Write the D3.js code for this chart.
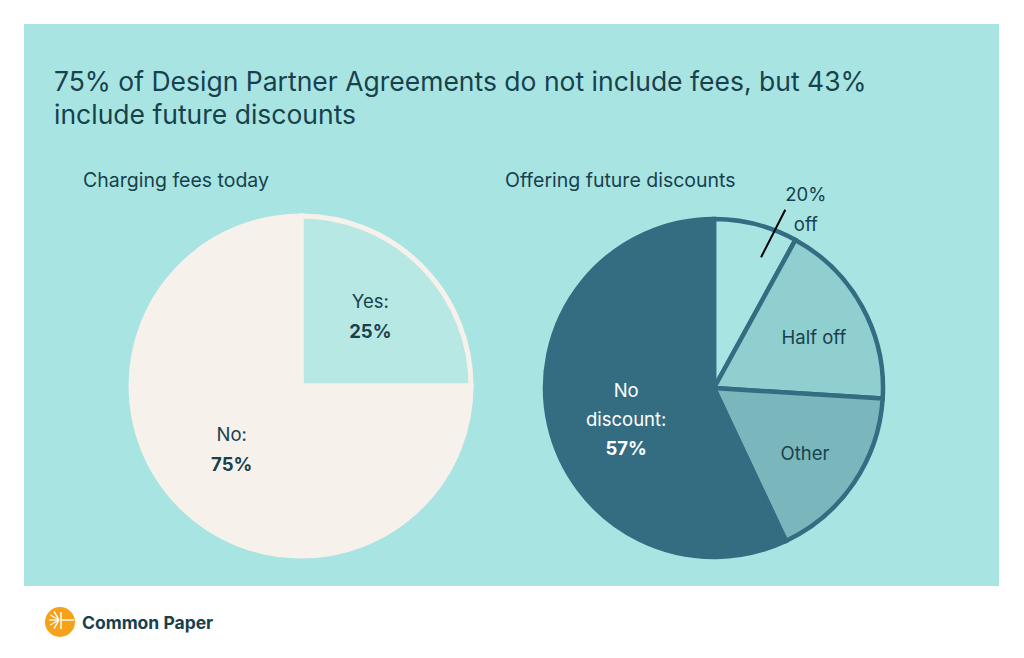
<!DOCTYPE html>
<html>
<head>
<meta charset="utf-8">
<script src="https://cdn.jsdelivr.net/npm/d3@7"></script>
<style>
  html, body { margin: 0; padding: 0; background: #ffffff; }
  svg { display: block; font-family: Inter, "Noto Sans", sans-serif; }
</style>
</head>
<body>
<svg id="chart" width="1024" height="658"></svg>
<script>
const titleLines = ["75% of Design Partner Agreements do not include fees, but 43%", "include future discounts"];
const feeTitle = "Charging fees today";
const feeLabels = ["Yes:", "No:"];
const feeValues = [25, 75];
const discountTitle = "Offering future discounts";
const discountLabels = ["20% off", "Half off", "Other", "No discount:"];
const discountValues = [8, 18, 17, 57];

const ink = "#17414d";
const svg = d3.select("#chart");

// panel
svg.append("rect")
  .attr("x", 24).attr("y", 24)
  .attr("width", 975).attr("height", 562)
  .attr("fill", "#a8e5e2");

svg.append("g")
  .selectAll("text")
  .data(titleLines)
  .enter()
  .append("text")
  .attr("x", 54)
  .attr("y", (d, i) => 91 + i * 33)
  .attr("font-size", 26.5)
  .attr("fill", ink)
  .text((d) => d);

const pie = d3.pie().sort(null).value((d) => d.value);

// left pie
const fees = feeLabels.map((l, i) => ({ label: l, value: feeValues[i] }));
const feeColors = ["#b8e8e4", "#f6f1eb"];
const left = svg.append("g").attr("transform", "translate(301, 386)");
const feeArc = d3.arc().innerRadius(0).outerRadius(170);
const feeLabelArc = d3.arc().innerRadius(0).outerRadius(196);

left.selectAll("path")
  .data(pie(fees))
  .enter()
  .append("path")
  .attr("d", feeArc)
  .attr("fill", (d, i) => feeColors[i])
  .attr("stroke", "#f6f1eb")
  .attr("stroke-width", 5)
  .attr("stroke-linejoin", "miter");

const feeText = left.selectAll("g.lbl")
  .data(pie(fees))
  .enter()
  .append("g")
  .attr("class", "lbl")
  .attr("transform", (d) => "translate(" + feeLabelArc.centroid(d) + ")");
feeText.append("text")
  .attr("text-anchor", "middle")
  .attr("y", (d, i) => (i === 0 ? -9 : -14))
  .attr("font-size", 18.5)
  .attr("fill", ink)
  .text((d) => d.data.label);
feeText.append("text")
  .attr("text-anchor", "middle")
  .attr("y", (d, i) => (i === 0 ? 21 : 16))
  .attr("font-size", 18.5)
  .attr("font-weight", 700)
  .attr("fill", ink)
  .text((d) => d.data.value + "%");

svg.append("text")
  .attr("x", 83).attr("y", 187)
  .attr("font-size", 19.5)
  .attr("fill", ink)
  .text(feeTitle);

// right pie
const discounts = discountLabels.map((l, i) => ({ label: l, value: discountValues[i] }));
const discColors = ["#a8e5e2", "#8fcfd0", "#7ab7bd", "#346d82"];
const right = svg.append("g").attr("transform", "translate(714, 388)");
const discArc = d3.arc().innerRadius(0).outerRadius(169);

right.selectAll("path")
  .data(pie(discounts))
  .enter()
  .append("path")
  .attr("d", discArc)
  .attr("fill", (d, i) => discColors[i])
  .attr("stroke", "#346d82")
  .attr("stroke-width", 4.5)
  .attr("stroke-linejoin", "miter");

const polar = (r, a) => [r * Math.sin(a), -r * Math.cos(a)];
const arcs = pie(discounts);

// inner labels
const inner = [
  { d: arcs[1], r: 114, dy: 5, lines: ["Half off"], bold: [], color: ink },
  { d: arcs[2], r: 110, dy: 4, lines: ["Other"], bold: [], color: ink },
  { d: arcs[3], r: 90, dy: 12, lines: ["No", "discount:", arcs[3].data.value + "%"], bold: [2], color: "#ffffff" },
];
inner.forEach((o) => {
  const mid = (o.d.startAngle + o.d.endAngle) / 2;
  const p = polar(o.r, mid);
  const n = o.lines.length;
  o.lines.forEach((line, i) => {
    right.append("text")
      .attr("x", p[0])
      .attr("y", p[1] + 6 + o.dy + (i - (n - 1) / 2) * 29)
      .attr("text-anchor", "middle")
      .attr("font-size", 18.5)
      .attr("font-weight", o.bold.includes(i) ? 700 : 400)
      .attr("fill", o.color)
      .text(line);
  });
});

// outside label for the small slice
const small = arcs[0];
const deg = Math.PI / 180;
const l0 = polar(139, small.endAngle - 9 * deg);
const l1 = polar(192, small.endAngle - 7 * deg);
right.append("line")
  .attr("x1", l0[0]).attr("y1", l0[1])
  .attr("x2", l1[0]).attr("y2", l1[1])
  .attr("stroke", "#000000")
  .attr("stroke-width", 2);
const lp = polar(201, small.endAngle - 1.6 * deg);
const smallParts = ["20%", "off"];
smallParts.forEach((t, i) => {
  right.append("text")
    .attr("x", lp[0])
    .attr("y", lp[1] + 7 + (i - 0.5) * 30)
    .attr("text-anchor", "middle")
    .attr("font-size", 18.5)
    .attr("fill", ink)
    .text(t);
});

svg.append("text")
  .attr("x", 505).attr("y", 187)
  .attr("font-size", 19.5)
  .attr("fill", ink)
  .text(discountTitle);

// logo
const logo = svg.append("g").attr("transform", "translate(60, 622)");
logo.append("circle").attr("r", 15).attr("fill", "#f6a11a");
logo.append("line")
  .attr("x1", 1).attr("y1", -2).attr("x2", 14).attr("y2", -2)
  .attr("stroke", "#ffffff").attr("stroke-width", 1.4);
logo.append("line")
  .attr("x1", 1).attr("y1", -10).attr("x2", 1).attr("y2", 7)
  .attr("stroke", "#ffffff").attr("stroke-width", 1.4);
d3.range(5).forEach((i) => {
  const a = (120 + i * 30) * deg;
  logo.append("line")
    .attr("x1", -1).attr("y1", -2)
    .attr("x2", -1 + 10 * Math.cos(a)).attr("y2", -2 + 10 * Math.sin(a))
    .attr("stroke", "#ffffff").attr("stroke-width", 1.3);
});
svg.append("text")
  .attr("x", 82).attr("y", 629)
  .attr("font-size", 17.5)
  .attr("font-weight", 700)
  .attr("fill", ink)
  .text("Common Paper");
</script>
</body>
</html>
